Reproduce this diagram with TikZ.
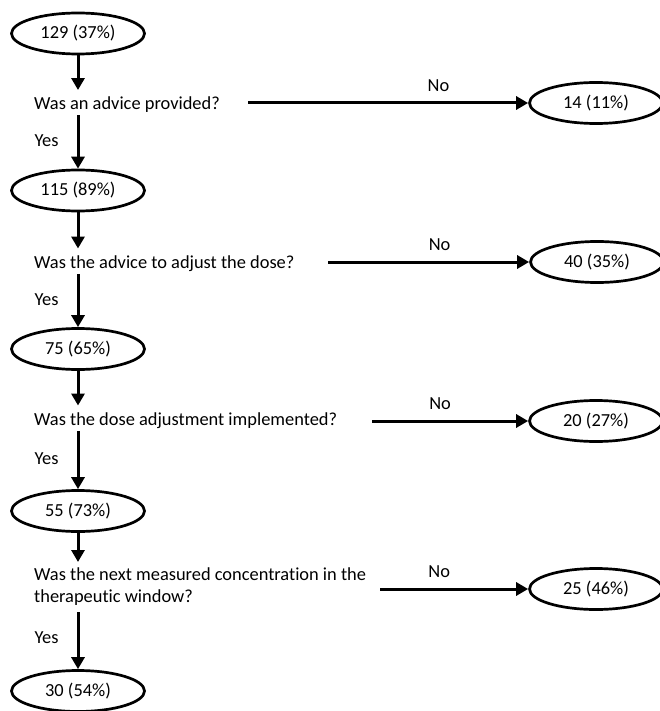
\documentclass[tikz,border=0pt]{standalone}
\usepackage{fontspec}
\setmainfont[Ligatures=NoCommon]{Carlito}
\usetikzlibrary{arrows.meta,shapes.geometric}
\begin{document}
\begin{tikzpicture}[x=1pt,y=-1pt,
  every node/.style={font=\fontsize{18.4pt}{22pt}\selectfont},
  oval/.style={ellipse,draw,line width=2.7pt,minimum width=133pt,minimum height=41pt,inner sep=0pt},
  question/.style={inner sep=0pt,anchor=base west,align=left},
  arr/.style={line width=3pt,-{Triangle[length=12pt,width=13pt]}},
  yeslbl/.style={anchor=east,inner sep=0pt,xshift=-18pt},
  nolbl/.style={above=10pt,inner sep=0pt}]
\useasboundingbox (0,0) rectangle (660,711);
% left column
\node[oval] (E1) at (78,33.5) {129 (37\%)};
\node[question] (T1) at (34,110) {Was an advice provided?};
\node[oval] (E2) at (78,190.5) {115 (89\%)};
\node[question] (T2) at (34,268.5) {Was the advice to adjust the dose?};
\node[oval] (E3) at (78,349) {75 (65\%)};
\node[question] (T3) at (34,425.5) {Was the dose adjustment implemented?};
\node[oval] (E4) at (78,511) {55 (73\%)};
\node[question,anchor=north west] (T4) at (34,568) {Was the next measured concentration in the\\therapeutic window?};
\node[oval] (E5) at (78,691) {30 (54\%)};
% right column
\node[oval] (R1) at (596,103) {14 (11\%)};
\node[oval] (R2) at (597,262) {40 (35\%)};
\node[oval] (R3) at (596,421) {20 (27\%)};
\node[oval] (R4) at (596,589) {25 (46\%)};
\coordinate (s1) at (248,103);
\coordinate (s2) at (328,262);
\coordinate (s3) at (372,421);
\coordinate (s4) at (380,589);
% vertical arrows
\draw[arr,shorten >=7pt] (E1) -- (E1 |- T1.north);
\draw[arr,shorten <=2pt] (E1 |- T1.south) -- node[yeslbl]{Yes} (E2);
\draw[arr,shorten >=7pt] (E2) -- (E2 |- T2.north);
\draw[arr,shorten <=2pt] (E2 |- T2.south) -- node[yeslbl]{Yes} (E3);
\draw[arr,shorten >=7pt] (E3) -- (E3 |- T3.north);
\draw[arr,shorten <=2pt] (E3 |- T3.south) -- node[yeslbl]{Yes} (E4);
\draw[arr,shorten >=6pt] (E4) -- (E4 |- T4.north);
\draw[arr,shorten <=6pt] (E4 |- T4.south) -- node[yeslbl]{Yes} (E5);
% horizontal arrows
\draw[arr] (s1) -- node[nolbl,pos=.68]{No} (R1);
\draw[arr] (s2) -- node[nolbl,pos=.555]{No} (R2);
\draw[arr] (s3) -- node[nolbl,pos=.436]{No} (R3);
\draw[arr] (s4) -- node[nolbl,pos=.4]{No} (R4);
\end{tikzpicture}
\end{document}
